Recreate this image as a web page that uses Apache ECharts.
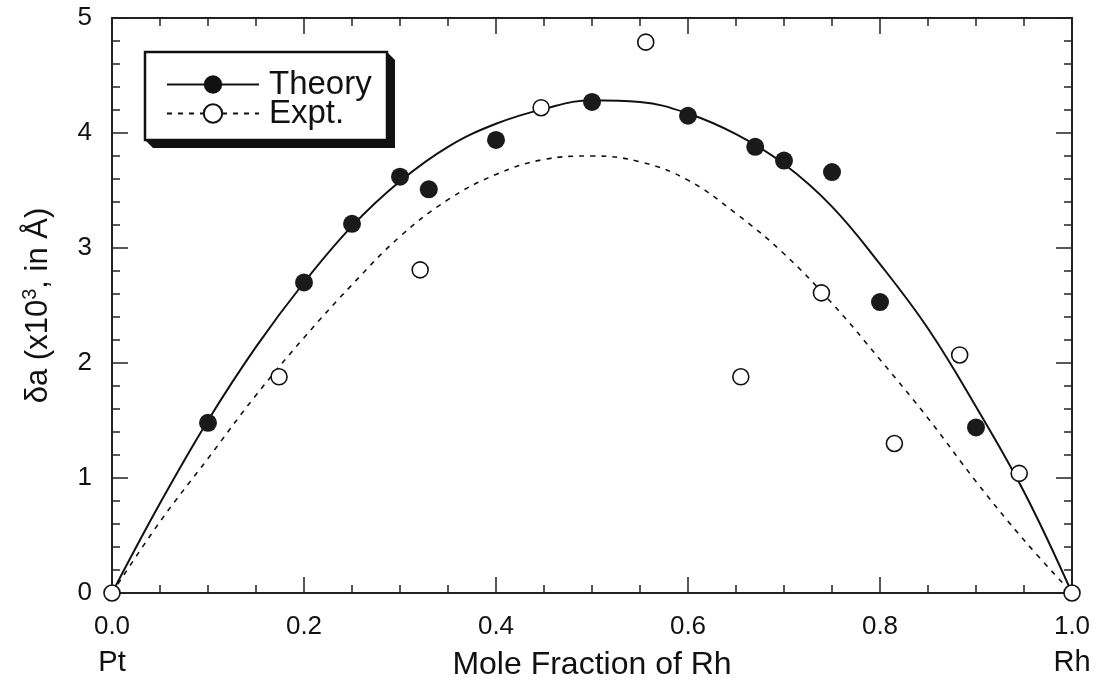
<!DOCTYPE html>
<html>
<head>
<meta charset="utf-8">
<script src="https://cdn.jsdelivr.net/npm/echarts@6/dist/echarts.min.js"></script>
<style>
html,body{margin:0;padding:0;background:#fff;}
#chart{width:1099px;height:684px;}
</style>
</head>
<body>
<div id="chart"></div>
<script>
// ---- data ----
const theoryX = [0.1, 0.2, 0.25, 0.3, 0.33, 0.4, 0.5, 0.6, 0.67, 0.7, 0.75, 0.8, 0.9];
const theoryY = [1.48, 2.70, 3.21, 3.62, 3.51, 3.94, 4.27, 4.15, 3.88, 3.76, 3.66, 2.53, 1.44];

const exptX = [0.0, 0.174, 0.321, 0.447, 0.556, 0.655, 0.739, 0.815, 0.883, 0.945, 1.0];
const exptY = [0.0, 1.88, 2.81, 4.22, 4.79, 1.88, 2.61, 1.30, 2.07, 1.04, 0.0];

const curveX      = [0, 0.05, 0.1, 0.15, 0.2, 0.25, 0.3, 0.35, 0.4, 0.45, 0.5, 0.55, 0.6, 0.65, 0.7, 0.75, 0.8, 0.85, 0.9, 0.95, 1.0];
const theoryCurve = [0, 0.78, 1.50, 2.14, 2.70, 3.19, 3.58, 3.88, 4.08, 4.21, 4.285, 4.27, 4.17, 3.99, 3.73, 3.36, 2.86, 2.30, 1.62, 0.88, 0];
const exptCurve   = [0, 0.62, 1.17, 1.72, 2.22, 2.68, 3.10, 3.42, 3.64, 3.77, 3.80, 3.75, 3.59, 3.30, 2.95, 2.52, 2.03, 1.52, 0.97, 0.46, 0];

const xTickLabels = {0: '0.0', 0.2: '0.2', 0.4: '0.4', 0.6: '0.6', 0.8: '0.8', 1: '1.0'};
const xEndNames = {0: 'Pt', 1: 'Rh'};
const yTickLabels = ['0', '1', '2', '3', '4', '5'];

const zip = (a, b) => a.map((v, i) => [v, b[i]]);

const FONT = 'Liberation Sans, Arial, Helvetica, sans-serif';
const INK = '#111';

const chart = echarts.init(document.getElementById('chart'), null, {renderer: 'canvas'});

function xAxisBase(pos, showLabel) {
  return {
    type: 'value', position: pos, min: 0, max: 1, interval: 0.2,
    axisLine: {show: true, onZero: false, lineStyle: {color: '#222', width: 2}},
    axisTick: {show: true, inside: true, length: 16, lineStyle: {color: '#222', width: 1.5}},
    minorTick: {show: true, splitNumber: 4, length: 8, lineStyle: {color: '#222', width: 1.5}},
    splitLine: {show: false}, minorSplitLine: {show: false},
    axisLabel: {
      show: showLabel, margin: 17, color: INK, fontFamily: FONT, fontSize: 26,
      formatter: v => {
        const key = Math.round(v * 10) / 10;
        const t = xTickLabels[key];
        if (xEndNames[key]) return '{n|' + t + '}\n{e|' + xEndNames[key] + '}';
        return '{n|' + t + '}';
      },
      rich: {
        n: {fontSize: 26, fontFamily: FONT, color: INK, lineHeight: 34},
        e: {fontSize: 29, fontFamily: FONT, color: INK, lineHeight: 38}
      }
    }
  };
}
function yAxisBase(pos, showLabel) {
  return {
    type: 'value', position: pos, min: 0, max: 5, interval: 1,
    axisLine: {show: true, onZero: false, lineStyle: {color: '#222', width: 2}},
    axisTick: {show: true, inside: true, length: 16, lineStyle: {color: '#222', width: 1.5}},
    minorTick: {show: true, splitNumber: 5, length: 8, lineStyle: {color: '#222', width: 1.5}},
    splitLine: {show: false}, minorSplitLine: {show: false},
    axisLabel: {show: showLabel, margin: 20, color: INK, fontFamily: FONT, fontSize: 26,
      formatter: v => yTickLabels[Math.round(v)]}
  };
}

const xBottom = Object.assign(xAxisBase('bottom', true), {
  name: 'Mole Fraction of Rh', nameLocation: 'middle', nameGap: 56, nameMoveOverlap: false,
  nameTextStyle: {color: INK, fontFamily: FONT, fontSize: 32}
});
const yLeft = Object.assign(yAxisBase('left', true), {
  name: 'δa (x10{s|3}, in Å)', nameLocation: 'middle', nameGap: 56, nameMoveOverlap: false,
  nameTextStyle: {color: INK, fontFamily: FONT, fontSize: 31,
    rich: {s: {fontSize: 20, fontFamily: FONT, color: INK, verticalAlign: 'top', padding: [0, 0, 16, 0]}}}
});

const L = 145, T = 52, R = 387, B = 140, D = 8;

const legendCommon = {
  z: 10, orient: 'vertical', left: 166, padding: 0,
  itemWidth: 92, itemHeight: 23, itemGap: 0,
  textStyle: {color: INK, fontFamily: FONT, fontSize: 33, padding: [0, 0, 0, 5]}
};

chart.setOption({
  animation: false,
  backgroundColor: '#fff',
  grid: {left: 112, right: 27, top: 18, bottom: 91, containLabel: false, outerBoundsMode: 'none'},
  xAxis: [xBottom, xAxisBase('top', false)],
  yAxis: [yLeft, yAxisBase('right', false)],
  graphic: [
    {type: 'polygon', z: 5, shape: {points: [[L, B], [R, B], [R, T], [R + D, T + D], [R + D, B + D], [L + D, B + D]]},
     style: {fill: '#111'}},
    {type: 'rect', z: 5, shape: {x: L, y: T, width: R - L, height: B - T},
     style: {fill: '#fff', stroke: '#111', lineWidth: 2.5}}
  ],
  legend: [
    Object.assign({top: 68, data: ['Theory']}, legendCommon),
    Object.assign({top: 97, data: ['Expt.']}, legendCommon)
  ],
  series: [
    {
      name: 'Theory', type: 'line', xAxisIndex: 0, yAxisIndex: 0,
      data: zip(curveX, theoryCurve), smooth: 0.4, showSymbol: false,
      symbol: 'circle', itemStyle: {color: '#111', opacity: 1},
      lineStyle: {color: '#111', width: 2}, z: 2, silent: true
    },
    {
      name: 'Expt.', type: 'line', xAxisIndex: 0, yAxisIndex: 0,
      data: zip(curveX, exptCurve), smooth: 0.4, showSymbol: false,
      symbol: 'circle', itemStyle: {color: '#fff', borderColor: '#111', borderWidth: 1.6, opacity: 1},
      lineStyle: {color: '#111', width: 1.6, type: [5, 6]}, z: 2, silent: true
    },
    {
      name: 'Theory points', type: 'scatter', xAxisIndex: 0, yAxisIndex: 0,
      data: zip(theoryX, theoryY), symbol: 'circle', symbolSize: 18,
      itemStyle: {color: '#1a1a1a', opacity: 1}, z: 4, clip: false
    },
    {
      name: 'Expt. points', type: 'scatter', xAxisIndex: 0, yAxisIndex: 0,
      data: zip(exptX, exptY), symbol: 'circle', symbolSize: 16,
      itemStyle: {color: '#fff', borderColor: '#111', borderWidth: 1.6, opacity: 1}, z: 4, clip: false
    }
  ]
});
</script>
</body>
</html>
